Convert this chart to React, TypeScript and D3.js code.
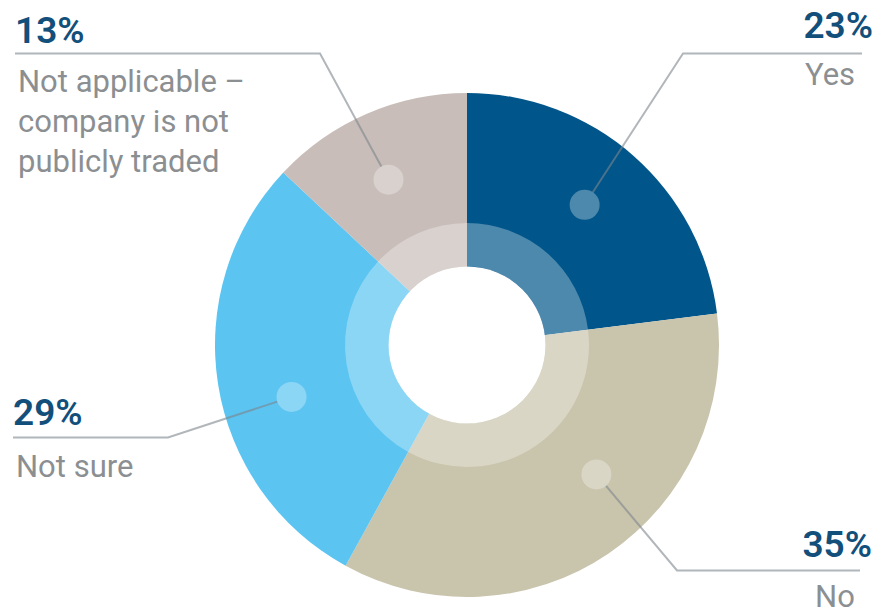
import React from "react";
import * as d3 from "d3";

const categories = ["Yes", "No", "Not sure", "Not applicable – company is not publicly traded"];
const values = [23, 35, 29, 13];
const percentLabels = ["23%", "35%", "29%", "13%"];
const labelLines = [["Yes"], ["No"], ["Not sure"], ["Not applicable –", "company is not", "publicly traded"]];
const colors = ["#00558a", "#c9c4ac", "#5bc4f1", "#c8bdb9"];

// annotation layout (not data)
const layout = [
  { dotAngle: 40, pctX: 873, pctY: 38, pctAnchor: "end", lineY: 53.5, lineFrom: 862, lineTo: 683, textX: 805, textY: 85, textAnchor: "start" },
  { dotAngle: 135, pctX: 872, pctY: 557, pctAnchor: "end", lineY: 570.5, lineFrom: 860, lineTo: 677, textX: 835, textY: 607, textAnchor: "middle" },
  { dotAngle: 253.5, pctX: 13, pctY: 425, pctAnchor: "start", lineY: 437.5, lineFrom: 13, lineTo: 168, textX: 16, textY: 477, textAnchor: "start" },
  { dotAngle: 334.6, pctX: 15, pctY: 43, pctAnchor: "start", lineY: 53.5, lineFrom: 15, lineTo: 320, textX: 18, textY: 92, textAnchor: "start" },
];

const W = 878, H = 614;
const cx = 467, cy = 345;
const rOuter = 252, rRing = 122, rHole = 78.5, rDot = 183, dotR = 15;

export default function App() {
  const pie = d3.pie<number>().sort(null).value((d) => d)(values);
  const outerArc = d3.arc<d3.PieArcDatum<number>>().innerRadius(0).outerRadius(rOuter);
  const ringArc = d3.arc<d3.PieArcDatum<number>>().innerRadius(rHole).outerRadius(rRing);
  const font = "Roboto, 'Open Sans', sans-serif";

  return (
    <svg width={W} height={H} style={{ position: "absolute", left: 0, top: 0, background: "#fff" }}>
      <g transform={`translate(${cx},${cy})`}>
        {pie.map((p, i) => (
          <path key={"o" + i} d={outerArc(p) || ""} fill={colors[i]} />
        ))}
        {pie.map((p, i) => (
          <path key={"r" + i} d={ringArc(p) || ""} fill="#ffffff" fillOpacity={0.3} />
        ))}
        <circle r={rHole} fill="#ffffff" />
      </g>
      {layout.map((l, i) => {
        const [dx, dy] = d3.pointRadial((l.dotAngle * Math.PI) / 180, rDot);
        const px = cx + dx, py = cy + dy;
        const vx = l.lineTo - px, vy = l.lineY - py;
        const len = Math.hypot(vx, vy);
        const ex = px + (vx / len) * dotR, ey = py + (vy / len) * dotR;
        const path = d3.line()([[l.lineFrom, l.lineY], [l.lineTo, l.lineY], [ex, ey]]);
        return (
          <g key={"l" + i}>
            <path d={path || ""} fill="none" stroke="#7d868c" strokeOpacity={0.6} strokeWidth={2} />
            <circle cx={px} cy={py} r={dotR} fill="#ffffff" fillOpacity={0.3} />
            <text x={l.pctX} y={l.pctY} textAnchor={l.pctAnchor as any} fontFamily={font} fontSize={37} fontWeight={600} fill="#124f7a">
              {percentLabels[i]}
            </text>
            {labelLines[i].map((t, j) => (
              <text key={j} x={l.textX} y={l.textY + j * 40} textAnchor={l.textAnchor as any} fontFamily={font} fontSize={31} fill="#8c8f92">
                {t}
              </text>
            ))}
          </g>
        );
      })}
    </svg>
  );
}
